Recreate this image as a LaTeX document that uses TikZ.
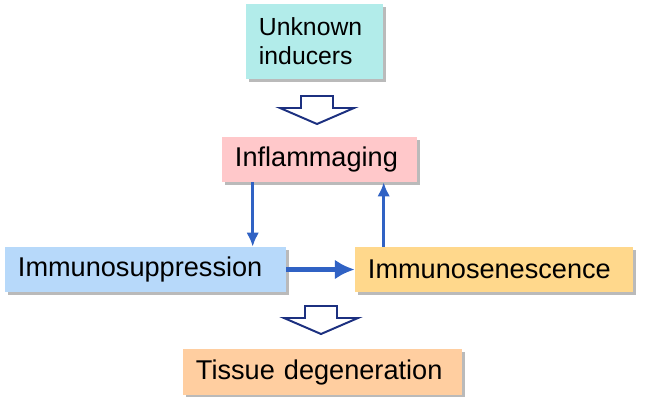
\documentclass[tikz,border=0pt]{standalone}
\usepackage{fontspec}
\setmainfont{Liberation Sans}
\usepackage{tikz}
\usetikzlibrary{shadows,arrows.meta}

\definecolor{unkcol}{RGB}{178,236,234}
\definecolor{inflcol}{RGB}{255,200,202}
\definecolor{suppcol}{RGB}{183,217,250}
\definecolor{sencol}{RGB}{255,216,140}
\definecolor{tisscol}{RGB}{255,206,160}
\definecolor{linkcol}{RGB}{48,98,196}
\definecolor{hollowcol}{RGB}{28,48,128}

\newcommand{\hollowarrow}[1]{%
    \draw[hollow] (#1) ++(-16,0) -- ++(32,0) -- ++(0,12) -- ++(21,0)
        -- ++(-37,16) -- ++(-37,-16) -- ++(21,0) -- cycle;}

\begin{document}
\begin{tikzpicture}[x=0.025cm,y=-0.025cm]
    \tikzstyle{box}=[inner xsep=0.325cm, inner ysep=0pt, align=left,
        minimum height=1.125cm, font=\fontsize{19.3}{21}\selectfont,
        drop shadow={shadow xshift=2pt, shadow yshift=-2pt, fill=black!45, opacity=0.6}]
    \tikzstyle{link}=[draw=linkcol, line width=2.1pt, -{Latex[length=10pt,width=9pt]}]
    \tikzstyle{mainlink}=[draw=linkcol, line width=3.4pt, -{Latex[length=14pt,width=14pt]}]
    \tikzstyle{hollow}=[draw=hollowcol, line width=1.4pt, fill=white, line join=miter]

    \useasboundingbox (0,0) rectangle (645,408);

    % Boxes
    \node[box, fill=unkcol, text width=2.775cm, minimum height=1.875cm,
        font=\fontsize{17.6}{20.5}\selectfont] (unk) at (314.5,41.5) {Unknown\\inducers};
    \node[box, fill=inflcol, text width=4.225cm] (infl) at (319.5,159.5) {Inflammaging};
    \node[box, fill=suppcol, text width=6.375cm] (supp) at (145.5,269.5) {Immunosuppression};
    \node[box, fill=sencol, text width=6.3cm] (sen) at (494,269.5) {Immunosenescence};
    \node[box, fill=tisscol, text width=6.325cm] (tiss) at (322.5,372) {Tissue degeneration};

    % Hollow arrows
    \coordinate (h1) at (317,96);
    \coordinate (h2) at (321,306);
    \hollowarrow{h1}
    \hollowarrow{h2}

    % Loop between the boxes
    \draw[link] ([xshift=0.775cm]infl.south west) -- ([xshift=0.775cm]infl.south west |- supp.north);
    \draw[link] ([xshift=0.725cm]sen.north west) -- ([xshift=0.725cm]sen.north west |- infl.south);
    \draw[mainlink] (supp.east) -- (sen.west);
\end{tikzpicture}
\end{document}
